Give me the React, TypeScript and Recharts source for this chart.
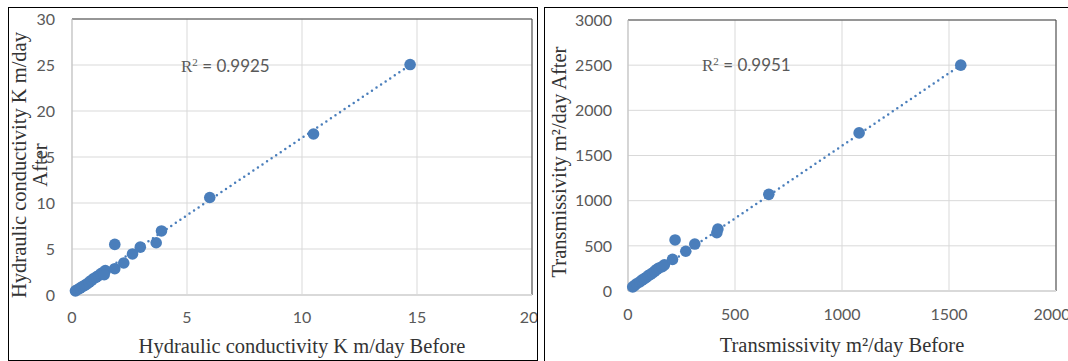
import {
  ScatterChart, Scatter, XAxis, YAxis, CartesianGrid, ReferenceLine, Label,
} from 'recharts';

// Hydraulic conductivity K (m/day), before vs after
const kBefore = [0.15, 0.25, 0.35, 0.45, 0.55, 0.65, 0.75, 0.85, 0.95, 1.05, 1.15, 1.25, 1.35, 1.45, 1.4, 1.86, 1.86, 2.25, 2.63, 2.97, 3.66, 3.89, 5.99, 10.5, 14.7];
const kAfter = [0.45, 0.6, 0.75, 0.9, 1.05, 1.2, 1.4, 1.6, 1.8, 1.95, 2.1, 2.3, 2.45, 2.65, 2.2, 2.86, 5.5, 3.48, 4.46, 5.2, 5.68, 6.96, 10.6, 17.5, 25.05];
const kTrendX = [0.15, 14.7];
const kTrendY = [0.5, 25.0];
const kXTicks = [0, 5, 10, 15, 20];
const kYTicks = [0, 5, 10, 15, 20, 25, 30];

// Transmissivity (m2/day), before vs after
const tBefore = [22, 30, 40, 55, 65, 75, 85, 95, 105, 115, 125, 135, 145, 160, 170, 208, 220, 270, 312, 415, 420, 658, 1080, 1555];
const tAfter = [45, 60, 80, 100, 120, 135, 150, 170, 185, 200, 220, 240, 255, 270, 290, 350, 565, 440, 520, 645, 685, 1070, 1750, 2500];
const tTrendX = [25, 1555];
const tTrendY = [40, 2500];
const tXTicks = [0, 500, 1000, 1500, 2000];
const tYTicks = [0, 500, 1000, 1500, 2000, 2500, 3000];

const BLUE = '#4A7EBB';
const TICK = { fill: '#595959', fontSize: 16, fontFamily: 'Lato' };
const TITLE_FONT = 'Liberation Serif';
const TITLE_COLOR = '#333333';

const dot = (p: any) => <circle cx={p.cx} cy={p.cy} r={5.8} fill={BLUE} />;

function XTitle({ viewBox, text, y }: any) {
  const cx = viewBox.x + viewBox.width / 2;
  return (
    <text x={cx} y={y} textAnchor="middle" dominantBaseline="central"
      fill={TITLE_COLOR} fontSize={20.5} fontFamily={TITLE_FONT}>{text}</text>
  );
}

function YTitle({ lines, xs, cy }: any) {
  return (
    <g>
      {lines.map((l: string, i: number) => (
        <text key={i} x={xs[i]} y={cy} transform={`rotate(-90 ${xs[i]} ${cy})`}
          textAnchor="middle" dominantBaseline="central"
          fill={TITLE_COLOR} fontSize={20.5} fontFamily={TITLE_FONT}>{l}</text>
      ))}
    </g>
  );
}

function RSquared({ value, left, top }: any) {
  return (
    <div style={{ position: 'absolute', left, top, lineHeight: '20px', fontSize: 17, color: '#595959', fontFamily: 'Lato', whiteSpace: 'nowrap' }}>
      <span style={{ fontFamily: TITLE_FONT }}>R<sup style={{ fontSize: 11, verticalAlign: 6 }}>2</sup></span> = {value}
    </div>
  );
}

export default function App() {
  const kData = kBefore.map((x, i) => ({ x, y: kAfter[i] }));
  const tData = tBefore.map((x, i) => ({ x, y: tAfter[i] }));

  return (
    <div style={{ position: 'fixed', left: 0, top: 0, width: 1068, height: 361, background: '#fff', overflow: 'hidden' }}>
      {/* left panel */}
      <div style={{ position: 'absolute', left: 8, top: 7, width: 528, height: 352, border: '1px solid #000', overflow: 'hidden' }}>
        <ScatterChart width={528} height={352} margin={{ top: 11, right: 5, left: 0, bottom: 0 }}>
          <CartesianGrid stroke="#D9D9D9" />
          <XAxis type="number" dataKey="x" domain={[0, 20]} ticks={kXTicks} tick={TICK}
            tickLine={false} tickMargin={11} height={65} axisLine={{ stroke: '#D9D9D9', strokeWidth: 2 }}>
            <Label content={(p: any) => <XTitle {...p} text="Hydraulic conductivity K m/day Before" y={338} />} />
          </XAxis>
          <YAxis type="number" dataKey="y" domain={[0, 30]} ticks={kYTicks} tick={TICK}
            tickLine={false} tickMargin={11} width={63} axisLine={{ stroke: '#BFBFBF' }}>
            <Label content={() => <YTitle lines={['Hydraulic conductivity K m/day', 'After']} xs={[10, 31]} cy={157} />} />
          </YAxis>
          <ReferenceLine y={30} stroke="#404040" />
          <ReferenceLine x={20} stroke="#404040" />
          <ReferenceLine segment={[{ x: kTrendX[0], y: kTrendY[0] }, { x: kTrendX[1], y: kTrendY[1] }]}
            stroke={BLUE} strokeWidth={2.5} strokeDasharray="0 5.5" strokeLinecap="round" />
          <Scatter data={kData} fill={BLUE} shape={dot} isAnimationActive={false} />
        </ScatterChart>
        <RSquared value="0.9925" left={172} top={44} />
      </div>

      {/* right panel */}
      <div style={{ position: 'absolute', left: 544, top: 7, width: 523, height: 353, borderLeft: '1px solid #000', borderTop: '1px solid #000', overflow: 'hidden' }}>
        <ScatterChart width={523} height={353} margin={{ top: 12, right: 12, left: 0, bottom: 0 }}>
          <CartesianGrid stroke="#D9D9D9" />
          <XAxis type="number" dataKey="x" domain={[0, 2000]} ticks={tXTicks} tick={TICK}
            tickLine={false} tickMargin={12} height={70} axisLine={{ stroke: '#D9D9D9', strokeWidth: 2 }}>
            <Label content={(p: any) => <XTitle {...p} text="Transmissivity m²/day Before" y={337} />} />
          </XAxis>
          <YAxis type="number" dataKey="y" domain={[0, 3000]} ticks={tYTicks} tick={TICK}
            tickLine={false} tickMargin={10} width={83} axisLine={{ stroke: '#BFBFBF' }}>
            <Label content={() => <YTitle lines={['Transmissivity m²/day After']} xs={[14]} cy={154} />} />
          </YAxis>
          <ReferenceLine y={3000} stroke="#404040" />
          <ReferenceLine x={2000} stroke="#404040" />
          <ReferenceLine segment={[{ x: tTrendX[0], y: tTrendY[0] }, { x: tTrendX[1], y: tTrendY[1] }]}
            stroke={BLUE} strokeWidth={2.5} strokeDasharray="0 5.5" strokeLinecap="round" />
          <Scatter data={tData} fill={BLUE} shape={dot} isAnimationActive={false} />
        </ScatterChart>
        <RSquared value="0.9951" left={157} top={43} />
      </div>
    </div>
  );
}
